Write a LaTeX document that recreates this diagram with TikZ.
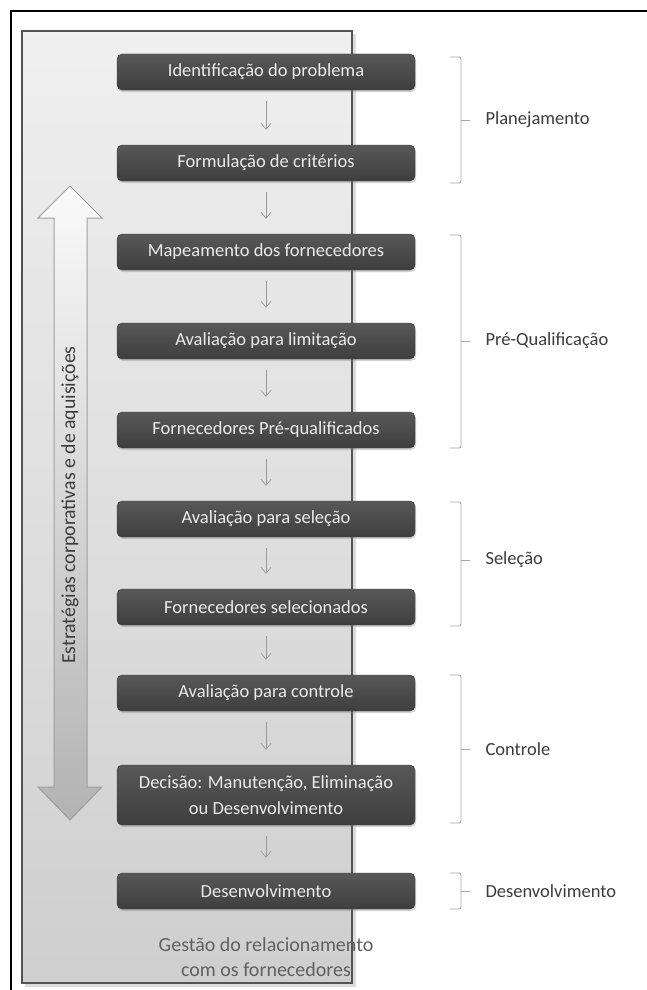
\documentclass[tikz,border=0pt]{standalone}
\usepackage{fontspec}
\setmainfont{Carlito}
\usetikzlibrary{shadows,arrows.meta}
\definecolor{boxdark}{HTML}{3E3E3E}
\definecolor{boxlight}{HTML}{585858}
\definecolor{txtgray}{HTML}{3C3C3C}
\tikzset{
  stepbox/.style={draw=boxdark, rounded corners=5pt, top color=boxlight, bottom color=boxdark,
    minimum width=298pt, minimum height=36pt, inner sep=2pt, text=white!92!black,
    font=\fontsize{18.5}{26}\selectfont, align=center,
    drop shadow={shadow xshift=1pt, shadow yshift=-2pt, opacity=0.35}},
  flowarrow/.style={draw=gray!80, line width=0.7pt, -{Straight Barb[length=6pt,width=10pt]}},
  bracketline/.style={draw=gray!70, line width=0.9pt},
  phase/.style={anchor=west, text=txtgray, font=\fontsize{18.5}{22}\selectfont},
}
\begin{document}
\begin{tikzpicture}[x=1pt,y=-1pt]
\useasboundingbox (0,0) rectangle (647,990);
\fill[white] (0,0) rectangle (647,990);
% outer frame (right and bottom edges fall outside)
\draw[black, line width=1.6pt] (11,1010) -- (11,11) -- (670,11);
% panel
\fill[gray!45, opacity=0.6] (25,34) rectangle (356,987);
\draw[draw=gray!65!black, line width=1.6pt, top color=gray!12, bottom color=gray!38] (22,31) rectangle (352,983);
% big double arrow
\draw[draw=gray!75, line width=1pt, top color=white!96!gray, bottom color=gray!60]
  (70,186) -- (102,218) -- (87,218) -- (87,787) -- (102,787) -- (70,820) -- (38,787) -- (54,787) -- (54,218) -- (38,218) -- cycle;
\node[rotate=90, text=txtgray, font=\fontsize{19.8}{22}\selectfont] (strat) at (70,505) {Estratégias corporativas e de aquisições};
% steps
\node[stepbox] (s1) at (266,72) {Identificação do problema};
\node[stepbox] (s2) at (266,163) {Formulação de critérios};
\node[stepbox] (s3) at (266,252) {Mapeamento dos fornecedores};
\node[stepbox] (s4) at (266,341) {Avaliação para limitação};
\node[stepbox] (s5) at (266,430) {Fornecedores Pré-qualificados};
\node[stepbox] (s6) at (266,519) {Avaliação para seleção};
\node[stepbox] (s7) at (266,607) {Fornecedores selecionados};
\node[stepbox] (s8) at (266,693) {Avaliação para controle};
\node[stepbox, minimum height=60pt] (s9) at (266,795) {Decisão: Manutenção, Eliminação\\ou Desenvolvimento};
\node[stepbox] (s10) at (266,891) {Desenvolvimento};
\foreach \a/\b in {s1/s2,s2/s3,s3/s4,s4/s5,s5/s6,s6/s7,s7/s8,s8/s9,s9/s10}
  \draw[flowarrow] ([yshift=-11pt]\a.south) -- ([yshift=15pt]\b.north);
\node[text=black!62, font=\fontsize{20}{25}\selectfont, align=center] (gest) at (266,957)
  {Gestão do relacionamento\\com os fornecedores};
% brackets
\foreach \n/\t/\b/\m/\lab in {p1/57/183/120/Planejamento, p2/235/448/341/Pré-Qualificação, p3/502/626/560/Seleção, p4/675/823/749/Controle, p5/873/909/891/Desenvolvimento}{
  \draw[bracketline, rounded corners=2pt] (450,\t) -- (461,\t) -- (461,\b) -- (450,\b);
  \coordinate (\n a) at (461,\m);
  \coordinate (\n b) at (470,\m);
  \draw[bracketline] (\n a) -- (\n b);
  \node[phase] (\n) at (482,\m) {\lab};
}
\end{tikzpicture}
\end{document}
